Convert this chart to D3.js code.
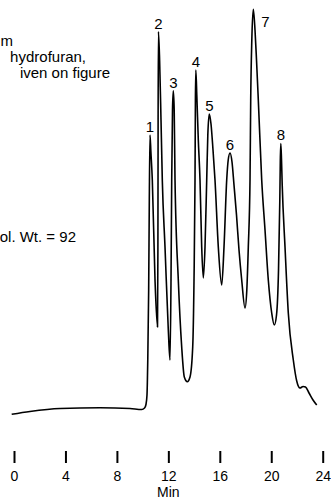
<!DOCTYPE html>
<html>
<head>
<meta charset="utf-8">
<script src="https://cdn.jsdelivr.net/npm/d3@7"></script>
<style>
  html, body { margin: 0; padding: 0; background: #fff; }
  svg { display: block; }
  text { font-family: "Liberation Sans", Arial, sans-serif; fill: #000; }
</style>
</head>
<body>
<svg id="chart" width="331" height="502"></svg>
<script>
// Retention time (min) of trace points
const traceTime = [-0.18, 1.24, 3.58, 6.69, 9.02, 9.93, 10.15, 10.26, 10.34, 10.40, 10.47, 10.52,
  10.574, 10.644, 10.753, 10.963, 11.157, 11.188, 11.204, 11.227, 11.320, 11.429, 11.530, 11.740,
  11.997, 12.129, 12.207, 12.261, 12.323, 12.385, 12.455, 12.518, 12.774, 13.038, 13.241, 13.474,
  13.684, 13.894, 13.995, 14.073, 14.104, 14.135, 14.212, 14.329, 14.461, 14.593, 14.718, 14.850,
  14.982, 15.068, 15.184, 15.316, 15.472, 15.627, 15.884, 16.148, 16.327, 16.537, 16.654, 16.794,
  16.949, 17.104, 17.299, 17.493, 17.703, 17.960, 18.100, 18.216, 18.349, 18.403, 18.489, 18.605, 18.737,
  18.854, 18.994, 19.258, 19.515, 19.771, 20.036, 20.238, 20.409, 20.565, 20.666, 20.705, 20.743,
  20.798, 20.852, 21.070, 21.326, 21.715, 21.980, 22.236, 22.469, 22.664, 22.936, 23.247, 23.535];
// Detector response (relative units) of trace points
const traceSignal = [1.43, 2.13, 2.88, 3.08, 2.88, 2.63, 3.0, 3.88, 6.25, 15, 32.5, 55,
  71.25, 67, 60, 35, 23.25, 42.5, 75, 97.08, 90, 75, 60, 43.25,
  22.5, 15, 35, 60, 77.5, 82.33, 77.5, 60, 35, 18.25, 10.75, 9.58,
  10.75, 18.25, 35, 60, 80, 87.5, 81.25, 70, 60, 43.25, 35.5, 43.25,
  60, 71.25, 76.5, 74, 67.5, 60, 43.25, 33.75, 43.25, 60, 65, 66.75,
  64.5, 58.75, 51.25, 42.5, 35, 28, 32.5, 43.25, 60, 80, 95, 102.68, 97.5,
  90, 80, 60, 47.5, 35, 26.75, 23.75, 26.25, 37.5, 55, 65, 69.13,
  65, 58.75, 43.25, 26.75, 15, 9.75, 8, 8.38, 8.25, 6.75, 5, 3.75];

// Peaks
const peakLabels = ["1", "2", "3", "4", "5", "6", "7", "8"];
const peakTime = [10.574, 11.227, 12.385, 14.135, 15.184, 16.794, 18.605, 20.743];
const peakHeight = [71.25, 97.08, 82.33, 87.5, 76.5, 66.75, 102.68, 69.13];

// Axis
const tickValues = [0, 4, 8, 12, 16, 20, 24];
const axisTitle = "Min";

// Annotation fragments (left part cut off in the original)
const noteLines = ["m", "hydrofuran,", "iven on figure"];
const molWtNote = "ol. Wt. = 92";

const FS = 15, AFS = 14;
const svg = d3.select("#chart");
svg.append("rect").attr("width", 331).attr("height", 502).attr("fill", "#fff");

const x = d3.scaleLinear().domain([0, 24]).range([14, 322.7]);
const y = d3.scaleLinear().domain([0, 105]).range([420, 0]);

const pts = traceTime.map((t, i) => [t, traceSignal[i]]);
const line = d3.line()
  .x(d => x(d[0]))
  .y(d => y(d[1]))
  .curve(d3.curveMonotoneX);

svg.append("path")
  .datum(pts)
  .attr("d", line)
  .attr("fill", "none")
  .attr("stroke", "#000")
  .attr("stroke-width", 1.6)
  .attr("stroke-linejoin", "round");

// Peak labels
svg.selectAll("text.peak")
  .data(peakLabels)
  .join("text")
  .attr("class", "peak")
  .attr("text-anchor", "middle")
  .attr("font-size", FS)
  .attr("x", (d, i) => x(peakTime[i]) + (d === "7" ? 12 : 0))
  .attr("y", (d, i) => y(peakHeight[i]) - 3 + (d === "7" ? 20.5 : 0))
  .text(d => d);

// X axis
const axis = d3.axisBottom(x)
  .tickValues(tickValues)
  .tickSize(12)
  .tickPadding(8)
  .tickFormat(d3.format("d"));

const gx = svg.append("g")
  .attr("transform", "translate(0,451)")
  .call(axis);
gx.select(".domain").remove();
gx.selectAll(".tick line").attr("stroke", "#000").attr("stroke-width", 2);
gx.selectAll(".tick text")
  .attr("font-size", AFS)
  .attr("font-family", "Liberation Sans, Arial, sans-serif")
  .attr("fill", "#000");

svg.append("text")
  .attr("x", x(12))
  .attr("y", 497)
  .attr("text-anchor", "middle")
  .attr("font-size", AFS)
  .text(axisTitle);

// Left annotation text
const noteEnds = [13, 86, 110];
noteLines.forEach((s, i) => {
  svg.append("text")
    .attr("x", noteEnds[i])
    .attr("y", 46 + i * 16)
    .attr("text-anchor", "end")
    .attr("font-size", FS)
    .text(s);
});
svg.append("text")
  .attr("x", 76)
  .attr("y", 242)
  .attr("text-anchor", "end")
  .attr("font-size", FS)
  .text(molWtNote);
</script>
</body>
</html>
